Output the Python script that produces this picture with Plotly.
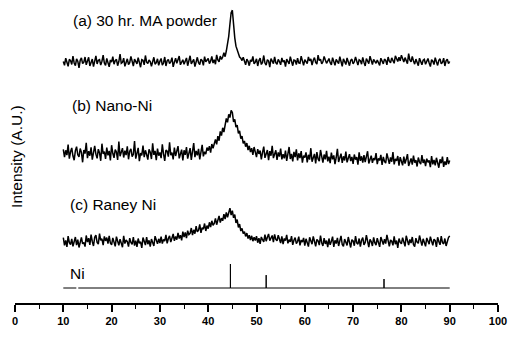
import plotly.graph_objects as go

# 2-theta grid of the measured patterns (0.25 deg steps, 10..90)
two_theta = [10 + 0.25 * i for i in range(321)]

# (a) 30 hr. MA powder
int_a = [
80.5,79.2,81.6,80.1,78.9,81.2,80.8,79.5,82.3,80.0,79.1,81.4,80.6,78.4,80.9,81.7,79.8,80.3,82.0,79.4,
80.7,81.9,79.0,80.4,81.3,78.8,80.2,82.4,79.7,80.9,81.1,79.3,80.6,82.6,80.0,79.2,81.5,80.4,78.7,81.0,
80.3,82.1,79.6,80.8,81.2,79.1,80.5,83.0,79.9,80.2,81.6,78.9,80.7,81.4,79.5,80.1,82.2,80.6,79.0,81.3,
80.4,79.7,81.8,80.2,78.6,81.1,80.9,79.4,82.5,80.3,79.8,81.0,80.5,78.9,80.8,81.9,79.6,80.1,81.4,79.2,
80.6,81.5,79.3,80.0,82.0,79.0,80.7,81.2,79.8,80.4,81.8,78.7,80.3,81.6,79.9,80.8,82.3,79.4,80.2,81.1,
79.6,80.9,81.7,79.1,80.5,82.4,79.7,80.3,81.2,78.8,80.6,81.9,80.1,79.5,81.3,80.8,79.2,82.1,80.4,80.9,
81.5,79.8,80.6,82.2,80.0,81.1,79.6,82.7,81.0,80.4,82.3,81.2,82.0,83.4,82.1,84.0,86.2,88.9,93.0,96.8,
97.6,92.3,88.4,85.6,84.1,83.2,82.0,81.6,80.8,81.9,80.2,79.4,81.3,80.6,79.1,81.0,80.5,82.2,79.7,80.3,
81.4,79.0,80.8,81.6,79.5,80.2,82.5,80.0,79.3,81.1,80.7,78.6,81.5,80.4,79.8,82.0,80.1,79.6,81.2,80.5,
79.4,81.7,80.3,80.9,78.8,81.3,80.6,79.7,82.1,80.2,79.1,81.0,80.8,79.5,81.6,80.0,79.9,82.3,80.4,79.2,
81.1,80.5,79.8,82.0,80.7,81.4,79.3,80.9,81.8,80.2,79.6,82.6,80.8,81.3,79.7,80.4,82.2,81.0,79.9,80.6,
81.5,80.1,79.4,81.8,80.7,79.2,81.2,80.5,79.8,82.1,80.3,78.9,81.4,80.0,79.5,81.7,80.6,79.1,80.9,81.3,
79.7,80.4,82.0,80.1,79.3,81.1,80.8,79.6,81.9,80.2,79.0,81.5,80.6,79.8,82.3,80.4,79.5,81.2,80.7,79.9,
81.0,80.3,79.2,81.6,80.5,79.7,81.3,80.9,79.4,82.0,80.6,80.1,81.7,80.8,79.9,82.4,81.1,80.5,81.9,80.7,
82.6,81.2,80.3,81.8,80.9,79.8,83.1,81.0,80.4,82.2,80.7,79.6,81.3,80.2,79.1,81.6,80.5,79.4,80.9,81.2,
79.6,80.3,81.5,80.0,78.8,81.1,80.6,79.5,81.8,80.4,79.2,80.9,81.4,79.7,80.2,81.6,79.0,80.7,81.3,79.8,
80.5]

# (b) Nano-Ni
int_b = [
51.2,48.6,50.9,49.3,52.8,48.1,50.4,51.7,49.0,47.6,50.8,52.1,49.4,48.7,51.5,50.2,46.9,51.0,49.8,53.4,
48.3,50.6,49.1,51.9,47.8,50.3,52.4,49.6,48.2,51.3,50.0,47.4,53.1,49.7,50.5,48.0,51.8,49.2,50.7,47.5,
52.6,49.9,48.4,51.1,50.3,47.7,53.8,48.9,50.1,51.6,48.5,50.8,49.3,52.2,47.9,50.6,51.4,48.8,49.6,54.0,
48.1,50.4,51.7,47.3,50.0,49.2,52.5,48.6,50.9,49.5,47.8,51.2,50.3,48.0,53.2,49.4,50.7,47.6,51.5,49.1,
50.2,48.3,52.9,49.7,47.4,51.0,50.6,48.8,53.6,49.3,50.1,47.9,51.8,49.0,50.5,52.3,48.2,49.8,51.1,47.5,
50.9,49.4,52.0,48.1,50.3,51.6,47.7,49.9,53.3,48.6,50.7,49.2,51.4,47.9,50.0,52.7,48.9,50.4,49.6,51.8,
50.8,52.3,50.1,53.0,51.6,52.8,54.5,52.9,55.6,54.1,57.2,55.8,58.4,57.0,59.8,61.5,60.2,62.9,61.8,64.2,
63.5,60.4,61.2,58.6,59.3,56.5,57.4,54.8,55.6,53.2,54.0,52.1,53.3,51.0,52.4,50.3,51.6,49.4,52.0,50.5,
48.6,51.3,49.7,50.8,47.9,50.2,52.1,48.4,49.5,51.0,47.6,50.6,49.1,52.4,48.3,49.8,50.9,47.7,50.2,48.8,
51.5,47.9,49.6,48.2,50.8,47.4,49.3,52.0,48.0,49.7,47.2,50.4,48.6,51.2,47.5,49.9,48.3,50.6,46.8,49.1,
48.5,50.2,46.9,49.4,47.8,51.6,47.1,48.9,49.7,46.5,50.3,48.0,47.3,51.0,48.6,46.8,49.5,47.9,50.7,47.2,
48.8,46.6,50.1,47.9,49.2,46.3,48.5,51.4,47.0,48.3,49.8,46.7,48.9,47.5,50.5,46.9,48.1,49.6,47.3,48.7,
46.4,49.5,47.8,48.6,46.1,50.2,47.4,48.9,46.8,49.3,47.0,48.4,50.6,46.5,47.9,49.1,46.7,48.3,47.6,50.0,
46.3,48.2,47.5,49.4,46.0,48.7,47.2,46.6,49.9,47.8,46.4,48.5,47.1,50.3,46.2,48.0,47.4,49.0,45.8,48.6,
47.3,45.9,48.8,46.5,47.9,49.6,45.7,47.4,48.2,46.1,49.1,46.8,47.6,45.5,48.5,47.0,46.3,49.3,46.7,47.8,
45.6,48.1,46.9,47.5,45.3,49.0,46.2,47.7,45.9,48.4,46.5,45.1,47.9,46.6,48.8,45.4,47.2,46.0,48.6,46.3,
47.5]

# (c) Raney Ni
int_c = [
21.8,19.2,20.9,18.7,22.3,20.1,19.5,21.4,18.9,20.6,22.0,19.3,21.1,18.5,20.8,21.9,19.7,20.2,18.8,22.5,
20.3,21.6,19.4,22.8,20.5,19.0,21.9,22.6,20.2,19.6,23.1,20.9,21.4,19.3,22.2,20.7,21.8,19.8,22.4,20.0,
19.4,21.7,20.3,18.9,22.1,20.6,19.2,21.3,20.0,18.6,22.4,19.8,21.0,20.5,18.8,21.6,20.2,19.5,22.0,19.1,
20.8,18.7,21.5,19.9,20.4,18.4,21.8,20.1,19.3,22.0,19.6,20.9,18.8,21.3,20.2,19.0,22.3,20.5,19.7,21.4,
20.0,22.1,19.8,21.2,20.6,22.7,19.9,21.5,22.4,20.3,21.8,23.0,20.7,22.2,21.1,23.4,21.5,22.6,20.9,23.8,
22.0,23.5,21.6,24.1,22.8,23.2,25.0,22.6,24.4,23.1,25.6,23.7,24.3,26.2,23.4,25.1,24.6,26.5,24.0,25.8,
24.8,26.9,25.3,27.4,25.9,26.5,28.2,26.1,27.6,29.0,26.8,28.3,27.4,29.6,28.0,30.2,28.6,29.9,31.6,29.3,
30.8,28.4,29.5,26.7,27.8,25.2,26.3,24.0,24.9,23.1,23.8,22.2,23.3,21.5,22.6,21.0,22.4,20.6,21.9,20.8,
22.3,20.1,21.6,19.7,22.0,21.1,20.4,22.8,20.6,21.9,23.0,20.8,21.7,22.5,20.3,22.9,21.2,20.7,22.6,21.4,
20.0,22.2,19.6,21.5,20.8,22.7,19.9,21.1,20.4,22.3,19.4,20.9,21.8,19.8,20.5,22.1,19.2,21.0,20.3,21.7,
19.1,21.4,20.2,18.8,21.9,20.5,19.6,22.2,20.0,18.9,21.2,20.7,19.3,22.5,20.1,19.0,21.6,19.7,20.8,18.6,
21.5,19.4,20.6,22.1,18.7,20.9,19.8,21.7,19.0,20.3,22.4,19.5,18.9,21.3,20.0,19.2,22.0,20.4,18.5,21.1,
20.7,19.1,22.3,20.0,19.6,21.5,18.8,20.9,21.8,19.4,20.2,22.6,19.7,18.6,21.2,20.5,19.0,21.9,20.1,19.3,
21.6,20.0,18.7,22.0,20.4,19.5,21.3,19.8,22.7,20.2,18.9,21.0,20.6,19.2,22.2,19.6,20.8,18.4,21.5,20.3,
19.7,21.8,20.1,18.9,22.4,20.6,19.3,21.2,20.0,22.0,19.5,18.8,21.6,20.3,19.9,22.5,20.7,19.1,21.4,20.2,
18.9,21.7,20.4,19.6,22.1,20.0,19.2,21.3,20.8,18.7,21.9,20.5,19.4,22.3,20.1,19.7,21.5,19.0,20.6,21.8,
22.4]

# Ni reference stick pattern
ni_base = 5.0
ni_range = [10.0, 12.7, 13.1, 90.0]
ni_peak_pos = [44.6, 52.0, 76.4]
ni_peak_top = [13.0, 9.3, 8.0]

labels = ["(a) 30 hr. MA powder", "(b) Nano-Ni", "(c) Raney Ni", "Ni"]
label_pos = [(11.5, 94.3), (11.3, 66.0), (10.9, 32.7), (11.0, 10.0)]

x_ticks = [0, 10, 20, 30, 40, 50, 60, 70, 80, 90, 100]

FONT = "Liberation Sans, Arial, sans-serif"

fig = go.Figure()
for ys in (int_a, int_b, int_c):
    fig.add_trace(go.Scatter(x=two_theta, y=ys, mode="lines", cliponaxis=False,
                             line=dict(color="black", width=1.5), showlegend=False))

# Build stick trace
nx = [ni_range[0], ni_range[1], None, ni_range[2]]
ny = [ni_base, ni_base, None, ni_base]
for p, t in zip(ni_peak_pos, ni_peak_top):
    nx += [p, p, p]
    ny += [ni_base, t, ni_base]
nx.append(ni_range[3])
ny.append(ni_base)
fig.add_trace(go.Scatter(x=nx, y=ny, mode="lines", connectgaps=False,
                         line=dict(color="black", width=1), showlegend=False))

for txt, (lx, ly) in zip(labels, label_pos):
    fig.add_annotation(x=lx, y=ly, xref="x", yref="y", text=txt, showarrow=False,
                       xanchor="left", yanchor="middle",
                       font=dict(family=FONT, size=15.5, color="black"))

fig.add_annotation(x=51.6, y=-14.7, xref="x", yref="y", text="2 Theta", showarrow=False,
                   xanchor="center", yanchor="middle",
                   font=dict(family=FONT, size=14.5, color="black"))
fig.add_annotation(x=0, y=48.7, xref="paper", yref="y", xshift=2, text="Intensity (A.U.)",
                   showarrow=False, textangle=-90, xanchor="center", yanchor="middle",
                   font=dict(family=FONT, size=15.5, color="black"))

fig.update_layout(
    width=509, height=358,
    margin=dict(l=15, r=11, t=3, b=55, autoexpand=False),
    paper_bgcolor="white", plot_bgcolor="white",
    xaxis=dict(range=[0, 100], tickmode="array", tickvals=x_ticks,
               ticktext=["<b>%d</b>" % v for v in x_ticks], automargin=False,
               showline=True, linecolor="black", linewidth=1.5,
               ticks="outside", ticklen=7, tickwidth=1.5, tickcolor="black",
               minor=dict(dtick=5, tick0=0, ticks="outside", ticklen=4, tickwidth=1, tickcolor="black"),
               showgrid=False, zeroline=False,
               tickfont=dict(family=FONT, size=11, color="black")),
    yaxis=dict(range=[0, 100], visible=False, showgrid=False, zeroline=False, automargin=False),
)

fig.write_html("out.html", config={"displayModeBar": False},
               post_script="document.body.style.margin='0';document.body.style.overflow='hidden';")
